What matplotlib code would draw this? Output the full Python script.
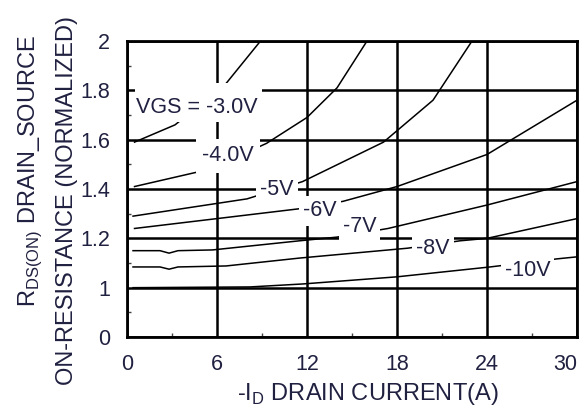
import numpy as np
import matplotlib
matplotlib.use("Agg")
import matplotlib.pyplot as plt
from matplotlib.patches import Rectangle
from matplotlib.ticker import MultipleLocator

plt.rcParams["font.family"] = ["Liberation Sans", "DejaVu Sans"]
plt.rcParams["mathtext.fontset"] = "custom"
plt.rcParams["mathtext.rm"] = "Liberation Sans"

# ─── data ─────────────────────────────────────────────────────────────────────
vgs3_x = [0.5, 3.2, 6.5, 8.9, 9.2]
vgs3_y = [1.59, 1.66, 1.82, 2.0, 2.05]

vgs4_x = [0.5, 5.5, 9.3, 12.0, 14.0, 16.0, 16.3]
vgs4_y = [1.41, 1.48, 1.585, 1.69, 1.81, 2.0, 2.03]

vgs5_x = [0.4, 8.0, 11.7, 17.1, 20.4, 23.0, 23.3]
vgs5_y = [1.29, 1.36, 1.43, 1.59, 1.76, 2.0, 2.03]

vgs6_x = [0.5, 11.5, 14.4, 18.0, 24.0, 30.0]
vgs6_y = [1.24, 1.32, 1.35, 1.41, 1.54, 1.76]

vgs7_x = [0.4, 2.2, 2.8, 3.4, 5.7, 11.5, 14.0, 17.4, 24.0, 30.0]
vgs7_y = [1.15, 1.15, 1.14, 1.15, 1.153, 1.19, 1.205, 1.24, 1.335, 1.43]

vgs8_x = [0.4, 2.2, 2.8, 3.4, 6.6, 11.5, 18.7, 22.2, 24.0, 30.0]
vgs8_y = [1.084, 1.084, 1.075, 1.084, 1.088, 1.12, 1.16, 1.19, 1.20, 1.28]

vgs10_x = [0.4, 8.2, 11.7, 18.0, 24.2, 28.7, 30.0]
vgs10_y = [1.0, 1.003, 1.015, 1.044, 1.084, 1.117, 1.125]

curves = [(vgs3_x, vgs3_y), (vgs4_x, vgs4_y), (vgs5_x, vgs5_y), (vgs6_x, vgs6_y),
          (vgs7_x, vgs7_y), (vgs8_x, vgs8_y), (vgs10_x, vgs10_y)]

label_text = ["VGS = -3.0V", "-4.0V", "-5V", "-6V", "-7V", "-8V", "-10V"]
label_x = [4.67, 6.75, 10.0, 12.87, 15.5, 20.4, 26.7]
label_y = [1.732, 1.534, 1.396, 1.311, 1.246, 1.16, 1.068]
label_pad = [0, 4.5, 3, 3, 3, 3, 3]

x_ticks = [0, 6, 12, 18, 24, 30]
y_ticks = [0.8, 1.0, 1.2, 1.4, 1.6, 1.8, 2.0]
y_ticklabels = ["0", "1", "1.2", "1.4", "1.6", "1.8", "2"]

TXT = "#202040"

fig = plt.figure(figsize=(5.87, 4.09), dpi=100)
ax = fig.add_axes([0.2164, 0.176, 0.7666, 0.7238])

for cx, cy in curves:
    ax.plot(cx, cy, color="black", lw=1.1, zorder=3)

# white knock-out behind the VGS label (wider on top than below, as in the sheet)
ax.add_patch(Rectangle((0.55, 1.67), 8.45, 0.16, facecolor="white",
                       edgecolor="none", zorder=4))

for t, lx, ly, p in zip(label_text, label_x, label_y, label_pad):
    bb = dict(facecolor="white", edgecolor="none", pad=p) if p > 0 else None
    ax.text(lx, ly, t, fontsize=15.5, color=TXT, ha="center", va="center", zorder=5,
            bbox=bb)

ax.set_xlim(0, 30)
ax.set_ylim(0.8, 2.0)
ax.set_xticks(x_ticks)
ax.set_xticklabels([str(v) for v in x_ticks])
ax.get_xticklabels()[-1].set_horizontalalignment("right")
ax.set_yticks(y_ticks)
ax.set_yticklabels(y_ticklabels)
ax.xaxis.set_minor_locator(MultipleLocator(3))
ax.yaxis.set_minor_locator(MultipleLocator(0.1))
ax.tick_params(which="major", length=0, labelsize=15.5, labelcolor=TXT, pad=12)
ax.tick_params(axis="x", which="major", pad=12)
ax.tick_params(which="minor", direction="in", length=3, width=1, color="#444444")
ax.grid(True, which="major", color="black", lw=1.8, zorder=1)
ax.set_axisbelow(True)
for s in ax.spines.values():
    s.set_linewidth(2)

fig.text(0.052, 0.582, r"R$_{\mathregular{DS(ON)}}$ DRAIN_SOURCE", rotation=90,
         fontsize=17, color=TXT, ha="center", va="center")
fig.text(0.114, 0.51, "ON-RESISTANCE (NORMALIZED)", rotation=90,
         fontsize=17, color=TXT, ha="center", va="center")
fig.text(0.627, 0.036, r"-I$_{\mathregular{D}}$ DRAIN CURRENT(A)",
         fontsize=17, color=TXT, ha="center", va="center")

fig.savefig("out.png", dpi=100)
